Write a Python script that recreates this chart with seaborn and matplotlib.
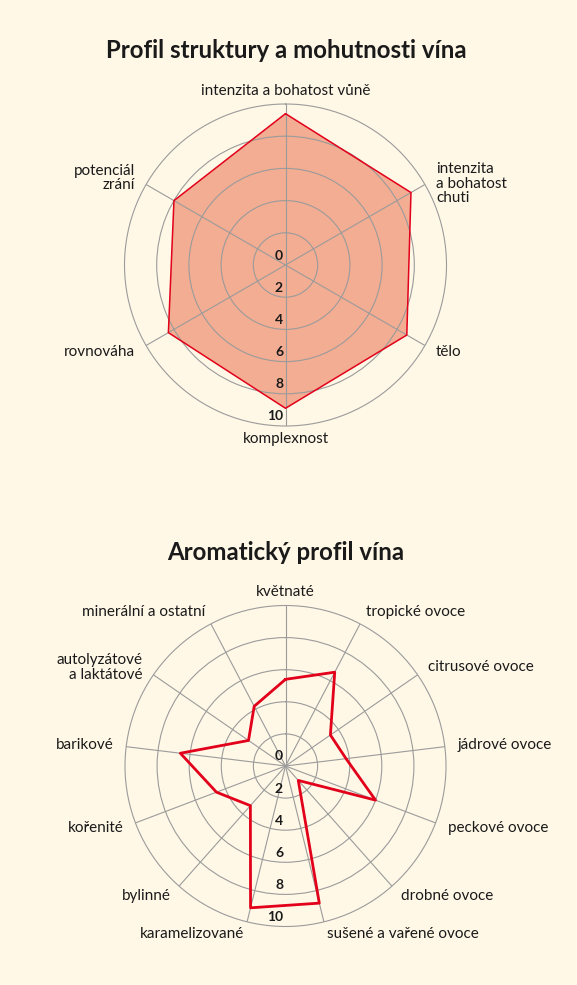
import numpy as np
import pandas as pd
import matplotlib
matplotlib.use("Agg")
import matplotlib.pyplot as plt
import seaborn as sns

# Data
structure_labels = ["intenzita a bohatost vůně", "intenzita\na bohatost\nchuti", "tělo",
                    "komplexnost", "rovnováha", "potenciál\nzrání"]
structure_values = [9.4, 9.0, 8.7, 8.9, 8.4, 8.0]

aroma_labels = ["květnaté", "tropické ovoce", "citrusové ovoce", "jádrové ovoce",
                "peckové ovoce", "drobné ovoce", "sušené a vařené ovoce", "karamelizované",
                "bylinné", "kořenité", "barikové", "autolyzátové\na laktátové",
                "minerální a ostatní"]
aroma_values = [5.4, 6.6, 3.4, 3.8, 6.0, 1.2, 8.8, 9.1, 3.3, 4.6, 6.6, 2.8, 4.2]

ring_ticks = [0, 2, 4, 6, 8, 10]
titles = ["Profil struktury a mohutnosti vína", "Aromatický profil vína"]

BG = "#FFF8E7"
RED = "#E2001A"
FILL = "#F2AD92"
GRID = "#9B9B9B"
INK = "#1A1A1A"

sns.set_theme(style="white", rc={"figure.facecolor": BG, "axes.facecolor": BG,
                                 "savefig.facecolor": BG})
plt.rcParams["font.family"] = ["Lato", "DejaVu Sans"]


def radar(ax, labels, values, filled, lw):
    n = len(labels)
    angles = np.linspace(0, 2 * np.pi, n, endpoint=False)
    ax.set_theta_zero_location("N")
    ax.set_theta_direction(-1)
    ax.set_facecolor(BG)
    ax.set_ylim(0, 10)
    ax.set_yticks([2, 4, 6, 8])
    ax.set_yticklabels([])
    ax.set_xticks(angles)
    ax.set_xticklabels([])
    ax.grid(True, color=GRID, lw=0.8)
    ax.spines["polar"].set_color(GRID)
    ax.spines["polar"].set_linewidth(0.8)
    ax.set_axisbelow(False)

    # close the loop at 2*pi so the last segment is the short way round
    df = pd.DataFrame({"theta": np.append(angles, 2 * np.pi),
                       "r": list(values) + [values[0]]})
    if filled:
        ax.fill(df["theta"], df["r"], color=FILL, lw=0, zorder=1)
    sns.lineplot(data=df, x="theta", y="r", sort=False, estimator=None,
                 color=RED, lw=lw, ax=ax, zorder=3)
    ax.set_xlabel("")
    ax.set_ylabel("")

    # category labels just outside the outer ring
    for a, lab in zip(angles, labels):
        s, c = np.sin(a), np.cos(a)
        ha = "left" if s > 0.05 else "right" if s < -0.05 else "center"
        nlines = lab.count("\n") + 1
        dy = -5.5 * (nlines - 2) if nlines > 2 else 0
        ax.annotate(lab, xy=(a, 10), xytext=(13 * s, 13 * c + dy),
                    textcoords="offset pixels", ha=ha, va="center",
                    fontsize=11, color=INK, annotation_clip=False,
                    linespacing=1.05)

    # scale labels down the bottom spoke
    for v in ring_ticks:
        ax.annotate(str(v), xy=(np.pi, v), xytext=(-2.5, 9.5),
                    textcoords="offset pixels", ha="right", va="center",
                    fontsize=10, fontweight="bold", color=INK, zorder=5,
                    annotation_clip=False)


fig = plt.figure(figsize=(5.77, 9.85), dpi=100)
W, H = 577, 985

ax1 = fig.add_axes([(285.5 - 161) / W, (H - 265 - 161) / H, 322 / W, 322 / H],
                   projection="polar")
radar(ax1, structure_labels, structure_values, filled=True, lw=1.1)

ax2 = fig.add_axes([(285.5 - 160.5) / W, (H - 766 - 160.5) / H, 321 / W, 321 / H],
                   projection="polar")
radar(ax2, aroma_labels, aroma_values, filled=False, lw=2.0)

fig.text(286.5 / W, 1 - 58 / H, titles[0], ha="center", va="baseline",
         fontsize=17.3, fontweight="bold", color=INK)
fig.text(285.5 / W, 1 - 560 / H, titles[1], ha="center", va="baseline",
         fontsize=17.3, fontweight="bold", color=INK)

fig.savefig("out.png", dpi=100, facecolor=BG)
